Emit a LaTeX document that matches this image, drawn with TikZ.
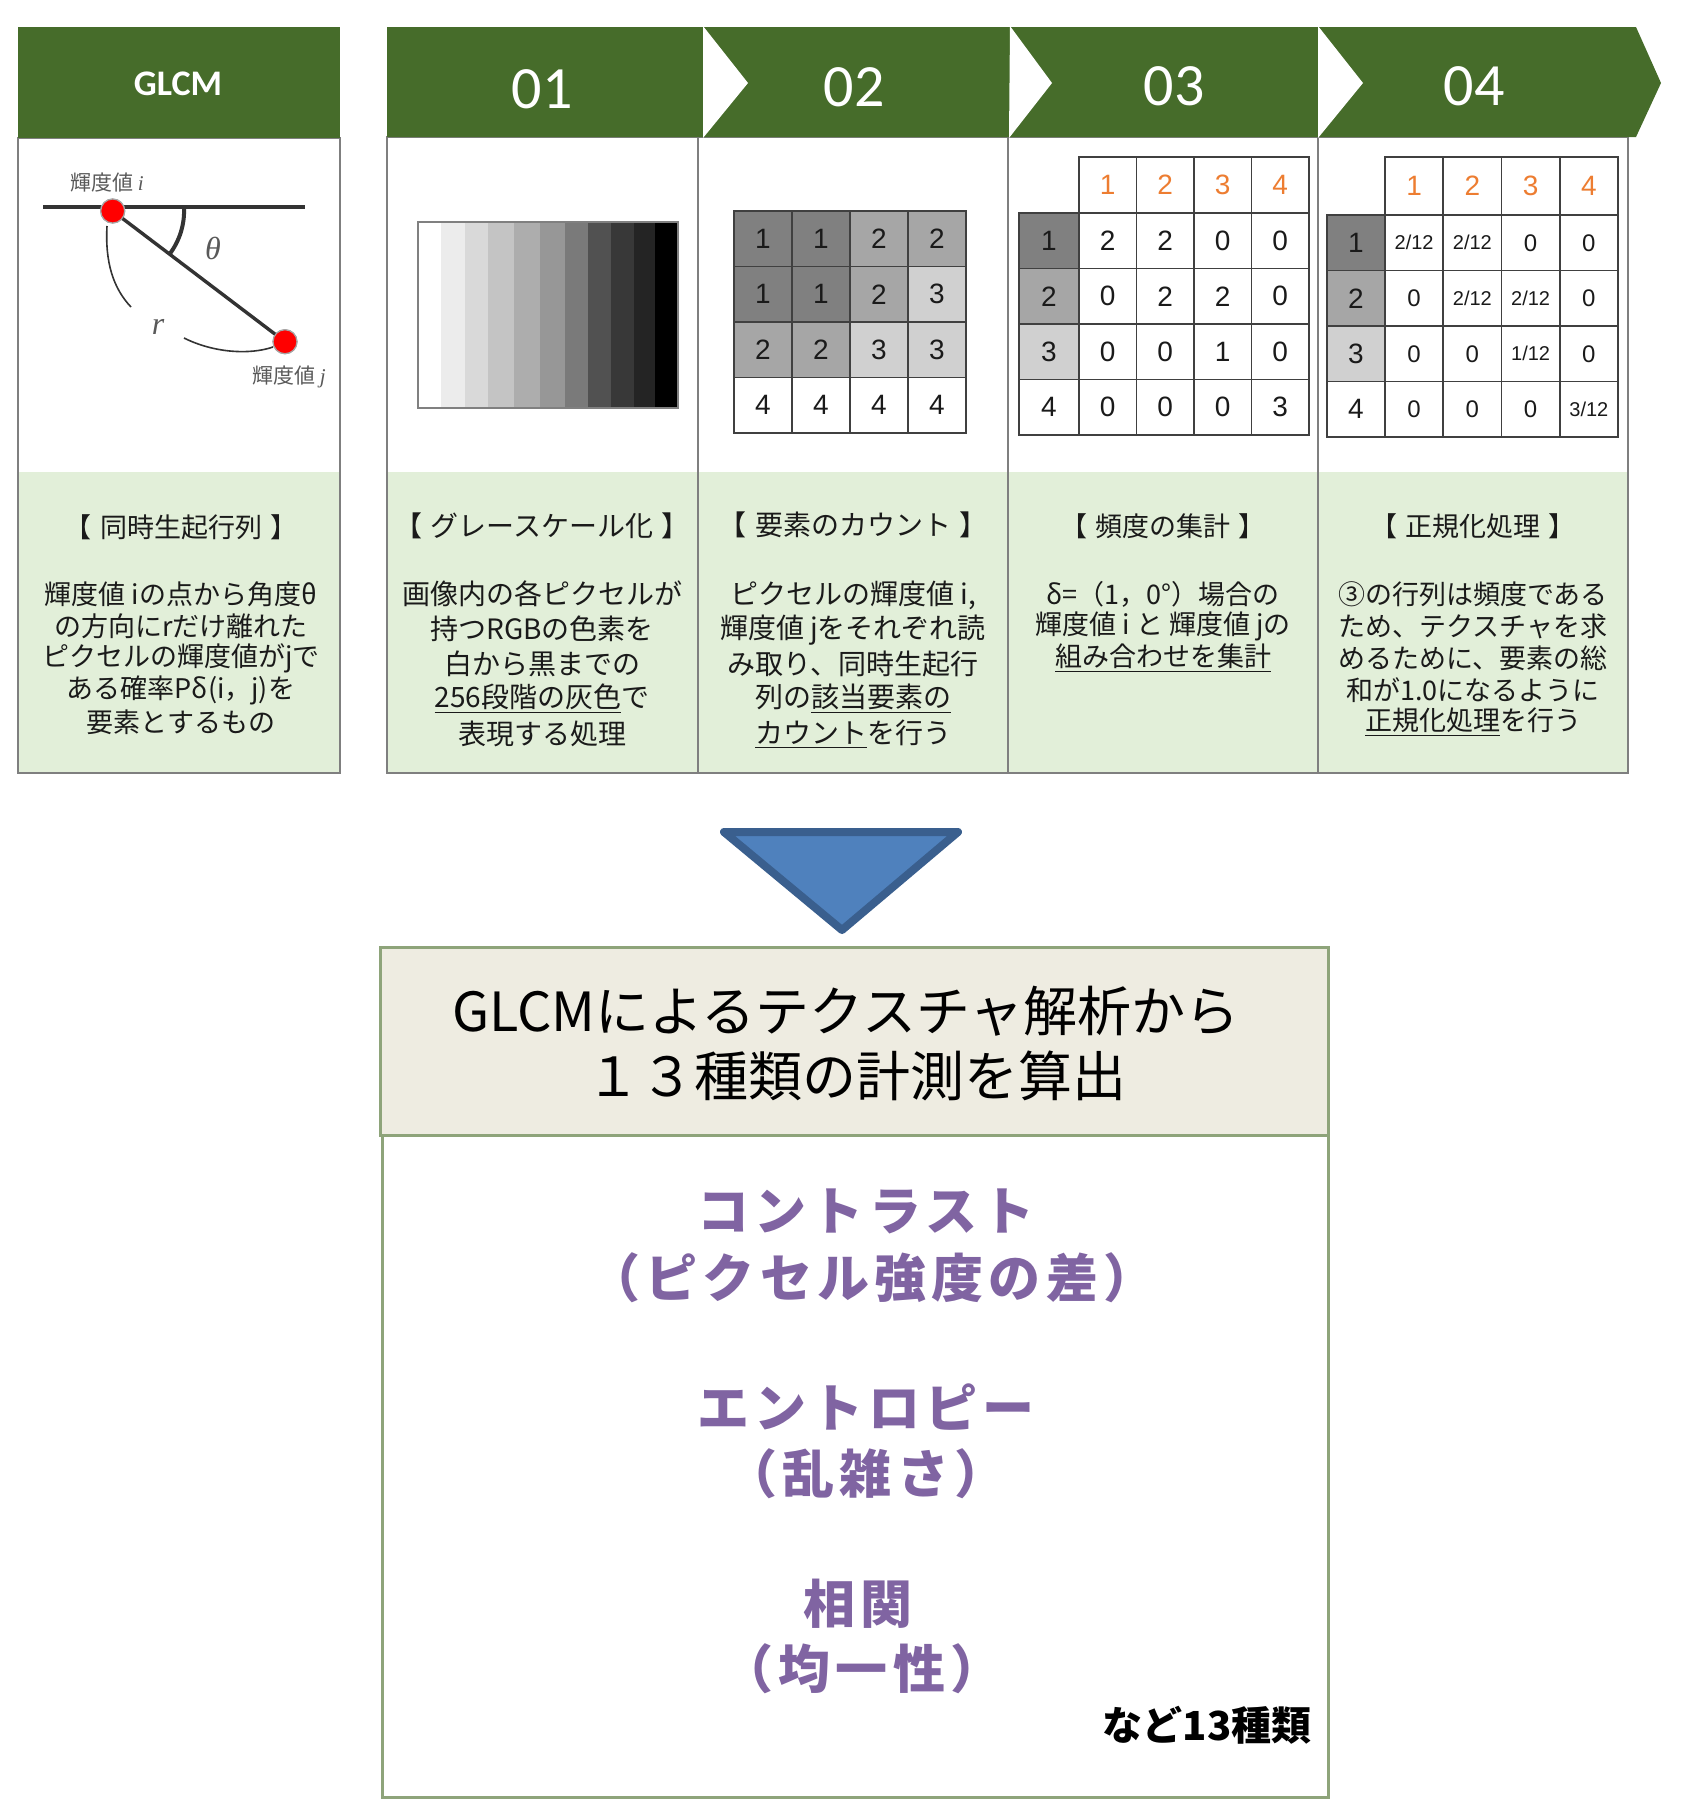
\documentclass[tikz,border=0pt]{standalone}
\usepackage{fontspec}
\newfontfamily\jp{Noto Sans CJK JP}
\newfontfamily\hdrfont{Carlito}
\newfontfamily\numfont{Liberation Sans}
\newfontfamily\tms{Liberation Serif}
\definecolor{hdrgreen}{HTML}{466C2A}
\definecolor{lgreen}{HTML}{E2EFD9}
\definecolor{boxline}{HTML}{7F7F7F}
\definecolor{cellline}{HTML}{404040}
\definecolor{cD}{HTML}{808080}
\definecolor{cM}{HTML}{A6A6A6}
\definecolor{cL}{HTML}{D0D0D0}
\definecolor{orng}{HTML}{ED7D31}
\definecolor{purp}{HTML}{8064A2}
\definecolor{trifill}{HTML}{4F81BD}
\definecolor{tridraw}{HTML}{3A5F8E}
\definecolor{tbfill}{HTML}{EEECE1}
\definecolor{tbline}{HTML}{8EA47A}
\definecolor{txt}{HTML}{1A1A1A}
\definecolor{lblgray}{HTML}{595959}
\newcommand\fr[2]{{\fontsize{10}{10}\selectfont #1/#2}}
\newcommand\lpar{\kern-0.42em（}
\newcommand\rpar{）\kern-0.42em}
\newcommand\tsp{\hspace{0.3em}}
\begin{document}
\begin{tikzpicture}[x=0.5pt,y=-0.5pt,
  boxln/.style={draw=boxline,line width=1pt},
  hdrtxt/.style={text=white,inner sep=0pt,font=\hdrfont\fontsize{30}{30}\selectfont},
  jt/.style={inner sep=0pt,text=txt,font=\jp\fontsize{13.5}{13.5}\selectfont},
  jtb/.style={inner sep=0pt,text=txt,font=\jp\fontsize{14}{14}\selectfont},
  cell/.style={draw=cellline,line width=0.8pt,inner sep=0pt,text=txt,font=\numfont\fontsize{14}{14}\selectfont},
  ptxt/.style={inner sep=0pt,text=purp,font=\jp\bfseries\fontsize{26}{26}\selectfont\addfontfeatures{LetterSpace=10}},
  dot/.style={circle,fill=red,draw=gray!70,line width=0.6pt,minimum size=12pt,inner sep=0pt},
  lbl/.style={inner sep=0pt,text=lblgray,font=\jp\fontsize{10.5}{10.5}\selectfont}]
\useasboundingbox (0,0) rectangle (1695,1805);

% ---------- GLCM panel ----------
\fill[lgreen] (18,472) rectangle (340,773);
\draw[boxln] (18,138) rectangle (340,773);
\fill[hdrgreen] (18,27) rectangle (340,138);
\node[hdrtxt,font=\hdrfont\bfseries\fontsize{18}{18}\selectfont] (hglcm) at (178,84) {GLCM};

% diagram
\coordinate (hl) at (43,207);
\coordinate (hr) at (305,207);
\draw[line width=1.7pt,draw=black!80] (hl) -- (hr);
\node[dot] (di) at (112.7,211) {};
\node[dot] (dj) at (285,341.7) {};
\draw[line width=1.7pt,draw=black!80] (di.center) -- (dj.center);
\node[dot] at (di) {};
\node[dot] at (dj) {};
\draw[line width=2pt,draw=black!80] (184,207) arc[start angle=-3,end angle=37.5,radius=72];
\draw[line width=0.8pt,draw=black!80] (107,226) .. controls (105,262) and (113,288) .. (131,307);
\draw[line width=0.8pt,draw=black!80] (184,338) .. controls (214,353) and (250,355) .. (273,347);
\node[inner sep=0pt,text=lblgray,font=\tms\itshape\fontsize{16}{16}\selectfont] (th) at (213,248) {θ};
\node[inner sep=0pt,text=lblgray,font=\tms\itshape\fontsize{16}{16}\selectfont] (rr) at (158,327) {r};
\node[lbl] (li) at (107,183) {輝度値 {\tms\itshape i}};
\node[lbl] (lj) at (289,377) {輝度値 {\tms\itshape j}};

\node[jt] (g0) at (181,527) {【\tsp 同時生起行列\tsp 】};
\node[jt] (g1) at (181,594) {輝度値 iの点から角度θ};
\node[jt] (g2) at (181,626) {の方向にrだけ離れた};
\node[jt] (g3) at (181,658) {ピクセルの輝度値がjで};
\node[jt] (g4) at (181,690) {ある確率Pδ(i，j)を};
\node[jt] (g5) at (181,722) {要素とするもの};

% ---------- steps panel ----------
\fill[lgreen] (387,472) rectangle (1628,773);
\draw[boxln] (387,137) rectangle (1628,773);
\foreach \xx in {698,1008,1318} \draw[boxln] (\xx,137) -- (\xx,773);
\fill[hdrgreen] (387,27) -- (1636,27) -- (1661,83) -- (1636,137) -- (387,137) -- cycle;
\fill[white] (703,26) -- (748,83) -- (703,138) -- cycle;
\fill[white] (1010,26) -- (1052,83) -- (1009,138) -- cycle;
\fill[white] (1318,26) -- (1363,83) -- (1318,138) -- cycle;
\node[hdrtxt] (h1) at (542,89) {01};
\node[hdrtxt] (h2) at (854,87) {02};
\node[hdrtxt] (h3) at (1174,86) {03};
\node[hdrtxt] (h4) at (1474,86) {04};

% 01 gradient
\foreach \a/\b/\g in {418/441/255,441/465/236,465/488/217,488/514/196,514/540/173,540/565/151,565/588/122,588/611/81,611/634/56,634/655/36,655/678/0}
  \fill[fill={rgb,255:red,\g;green,\g;blue,\g}] (\a,222) rectangle (\b,408);
\draw[draw=gray,line width=0.6pt] (418,222) rectangle (678,408);

% 02 matrix
\foreach \cc/\rr/\fc/\val in {0/0/cD/1,1/0/cD/1,2/0/cM/2,3/0/cM/2,
  0/1/cD/1,1/1/cD/1,2/1/cM/2,3/1/cL/3,
  0/2/cM/2,1/2/cM/2,2/2/cL/3,3/2/cL/3,
  0/3/white/4,1/3/white/4,2/3/white/4,3/3/white/4}
  \node[cell,fill=\fc,minimum width=29pt,minimum height=27.75pt] (ma-\rr-\cc) at ({734+58*\cc+29},{211+55.5*\rr+27.75}) {\val};

% 03 matrix
\foreach \cc in {1,...,4}
  \node[cell,fill=white,text=orng,minimum width=28.75pt,minimum height=28pt] (mb-h-\cc) at ({1079+57.5*(\cc-1)+28.75},185) {\cc};
\foreach \rr/\fc in {1/cD,2/cM,3/cL,4/white}
  \node[cell,fill=\fc,minimum width=30pt,minimum height=27.75pt] (mb-l-\rr) at (1049,{213+55.5*(\rr-1)+27.75}) {\rr};
\foreach \cc/\rr/\val in {1/1/2,2/1/2,3/1/0,4/1/0,
  1/2/0,2/2/2,3/2/2,4/2/0,
  1/3/0,2/3/0,3/3/1,4/3/0,
  1/4/0,2/4/0,3/4/0,4/4/3}
  \node[cell,fill=white,minimum width=28.75pt,minimum height=27.75pt] (mb-\rr-\cc) at ({1079+57.5*(\cc-1)+28.75},{213+55.5*(\rr-1)+27.75}) {\val};

% 04 matrix
\foreach \cc in {1,...,4}
  \node[cell,fill=white,text=orng,minimum width=29.125pt,minimum height=29pt] (mc-h-\cc) at ({1385+58.25*(\cc-1)+29.125},186) {\cc};
\foreach \rr/\fc in {1/cD,2/cM,3/cL,4/white}
  \node[cell,fill=\fc,minimum width=29pt,minimum height=27.75pt] (mc-l-\rr) at (1356,{215+55.5*(\rr-1)+27.75}) {\rr};
\foreach \cc/\rr/\val in {1/1/\fr{2}{12},2/1/\fr{2}{12},3/1/0,4/1/0,
  1/2/0,2/2/\fr{2}{12},3/2/\fr{2}{12},4/2/0,
  1/3/0,2/3/0,3/3/\fr{1}{12},4/3/0,
  1/4/0,2/4/0,3/4/0,4/4/\fr{3}{12}}
  \node[cell,fill=white,font=\numfont\fontsize{12}{12}\selectfont,minimum width=29.125pt,minimum height=27.75pt] (mc-\rr-\cc) at ({1385+58.25*(\cc-1)+29.125},{215+55.5*(\rr-1)+27.75}) {\val};

% step texts
\node[jtb] (a0) at (542,526) {【\tsp グレースケール化\tsp 】};
\node[jtb] (a1) at (542,594) {画像内の各ピクセルが};
\node[jtb] (a2) at (542,629) {持つRGBの色素を};
\node[jtb] (a3) at (542,664) {白から黒までの};
\node[jtb] (a4) at (542,699) {\underline{256段階の灰色}で};
\node[jtb] (a5) at (542,734) {表現する処理};

\node[jtb] (b0) at (853,525) {【\tsp 要素のカウント\tsp 】};
\node[jtb] (b1) at (853,595) {ピクセルの輝度値 i,};
\node[jtb] (b2) at (853,630) {輝度値 jをそれぞれ読};
\node[jtb] (b3) at (853,664) {み取り、同時生起行};
\node[jtb] (b4) at (853,699) {列の\underline{該当要素の}};
\node[jtb] (b5) at (853,734) {\underline{カウント}を行う};

\node[jt] (c0) at (1163,526) {【\tsp 頻度の集計\tsp 】};
\node[jt] (c1) at (1163,594) {δ=（1，0°）場合の};
\node[jt] (c2) at (1163,626) {輝度値 i と 輝度値 jの};
\node[jt] (c3) at (1163,658) {\underline{組み合わせを集計}};

\node[jt] (d0) at (1473,526) {【\tsp 正規化処理\tsp 】};
\node[jt] (d1) at (1473,594) {③の行列は頻度である};
\node[jt] (d2) at (1473,626) {ため、テクスチャを求};
\node[jt] (d3) at (1473,658) {めるために、要素の総};
\node[jt] (d4) at (1473,690) {和が1.0になるように};
\node[jt] (d5) at (1473,722) {\underline{正規化処理}を行う};

% ---------- down arrow ----------
\draw[fill=trifill,draw=tridraw,line width=4pt,line join=round] (724,832) -- (958,832) -- (842,930) -- cycle;

% ---------- result boxes ----------
\draw[fill=white,draw=tbline,line width=1.5pt] (382,1135) rectangle (1328,1797);
\draw[fill=tbfill,draw=tbline,line width=1.5pt] (380,947) rectangle (1328,1135);
\node[inner sep=0pt,text=black,font=\jp\fontsize{27}{27}\selectfont] (t1) at (846,1011) {GLCMによるテクスチャ解析から};
\node[inner sep=0pt,text=black,font=\jp\fontsize{27}{27}\selectfont] (t2) at (856,1076) {１３種類の計測を算出};

\node[ptxt] (p1) at (866,1211) {コントラスト};
\node[ptxt] (p2) at (872,1278) {\lpar ピクセル強度の差\rpar};
\node[ptxt] (p3) at (866,1407) {エントロピー};
\node[ptxt] (p4) at (866,1474) {\lpar 乱雑さ\rpar};
\node[ptxt] (p5) at (858,1604) {相関};
\node[ptxt] (p6) at (862,1669) {\lpar 均一性\rpar};
\node[inner sep=0pt,text=black,font=\jp\bfseries\fontsize{20}{20}\selectfont,anchor=east] (p7) at (1312,1725) {など13種類};
\end{tikzpicture}
\end{document}
